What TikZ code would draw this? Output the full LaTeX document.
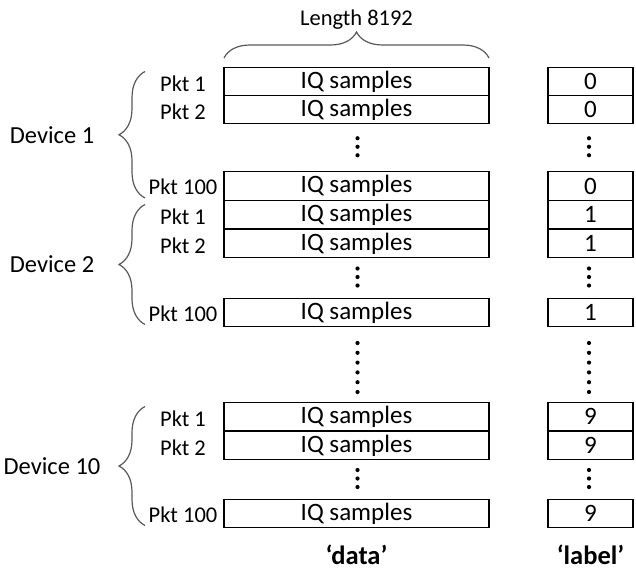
\documentclass[tikz,border=0pt]{standalone}
\usepackage{fontspec}
\setmainfont{Carlito}
\usetikzlibrary{decorations.pathreplacing}

\tikzset{
  txt/.style={inner sep=0pt, font=\fontsize{22.5}{26}\selectfont},
  iqbox/.style={txt, draw, line width=1.2pt, minimum width=265pt, minimum height=28.5pt, font=\fontsize{25}{28}\selectfont},
  lblbox/.style={iqbox, minimum width=85pt},
  grp/.style={decorate, decoration={brace, amplitude=26pt}, draw=black!65, line width=1.2pt},
  vdot/.style={circle, fill, inner sep=0pt, minimum size=4.2pt},
}

\begin{document}
\begin{tikzpicture}[x=1pt, y=-1pt]
\useasboundingbox (0,0) rectangle (636,578);

% length brace
\draw[grp] (224,58) -- (489,58) node[midway, above=28pt, txt] (len) {Length 8192};

% one group of packets per device
\foreach \d/\n/\ya/\yb/\yc in {1/0/81.5/109.5/186, 2/1/214.5/243.5/312.5, 10/9/416.5/445.5/513.5} {
  \node[iqbox] (iq\d-1) at (356.5,\ya) {IQ samples};
  \node[iqbox] (iq\d-2) at (356.5,\yb) {IQ samples};
  \node[iqbox] (iq\d-100) at (356.5,\yc) {IQ samples};
  \node[lblbox] (lb\d-1) at (590.5,\ya) {\n};
  \node[lblbox] (lb\d-2) at (590.5,\yb) {\n};
  \node[lblbox] (lb\d-100) at (590.5,\yc) {\n};
  \node[txt] (pkt\d-1) at (183,\ya+2) {Pkt 1};
  \node[txt] (pkt\d-2) at (183,\yb+2) {Pkt 2};
  \node[txt] (pkt\d-100) at (183,\yc+1) {Pkt 100};
  % brace and device name
  \draw[grp] (145,\yc+12) -- (145,\ya-10);
  \node[txt, font=\fontsize{24.5}{28}\selectfont] (dev\d) at (52,{(\ya+\yc)/2+1}) {Device \d};
  % dots between packet 2 and packet 100
  \foreach \k in {-1,0,1} {
    \node[vdot] at (357.5,{(\yb+\yc)/2-1+8.5*\k}) {};
    \node[vdot] at (589,{(\yb+\yc)/2-1+8.5*\k}) {};
  }
}

% dots between device 2 and device 10
\foreach \k in {0,...,5} {
  \node[vdot] at (357.5,343+9.8*\k) {};
  \node[vdot] at (589,343+9.8*\k) {};
}

% column names
\node[txt, font=\bfseries\fontsize{26.5}{30}\selectfont] (data) at (356.5,555) {‘data’};
\node[txt, font=\bfseries\fontsize{26.5}{30}\selectfont] (label) at (590.5,555) {‘label’};
\end{tikzpicture}
\end{document}
